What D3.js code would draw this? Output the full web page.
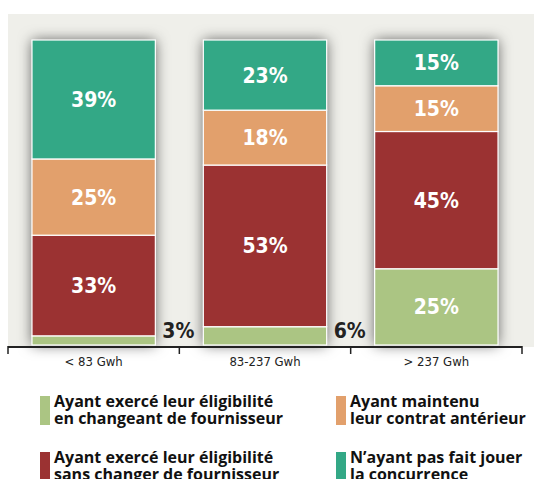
<!DOCTYPE html>
<meta charset="utf-8">
<style>
body { margin: 0; background: #fff; }
text { font-family: "Liberation Sans Narrow", "DejaVu Sans Condensed", sans-serif; }
.val { font-weight: bold; font-size: 21px; }
.cat { font-size: 13px; fill: #222; }
.leg { font-family: "Open Sans", Lato, sans-serif; font-weight: bold; font-size: 16px; fill: #111; }
</style>
<body>
<div id="chart"></div>
<script src="https://cdn.jsdelivr.net/npm/d3@7"></script>
<script>
// categories and series (percent)
var categories = ["< 83 Gwh", "83-237 Gwh", "> 237 Gwh"];
var changed    = [3, 6, 25];   // exercé, en changeant
var stayed     = [33, 53, 45]; // exercé, sans changer
var kept       = [25, 18, 15]; // maintenu contrat
var noCompet   = [39, 23, 15]; // pas fait jouer la concurrence
var seriesKeys = ["changed", "stayed", "kept", "noCompet"];
var seriesColors = ["#abc583", "#9b3232", "#e2a06c", "#33a886"];
var legendLines = [
  ["Ayant exercé leur éligibilité", "en changeant de fournisseur"],
  ["Ayant exercé leur éligibilité", "sans changer de fournisseur"],
  ["Ayant maintenu", "leur contrat antérieur"],
  ["N’ayant pas fait jouer", "la concurrence"]
];

var width = 534, height = 479;
var svg = d3.select("#chart").append("svg")
    .attr("width", width)
    .attr("height", height);

var defs = svg.append("defs");
var f = defs.append("filter").attr("id", "shadow")
    .attr("x", "-30%").attr("y", "-30%").attr("width", "160%").attr("height", "160%");
f.append("feDropShadow")
    .attr("dx", 0).attr("dy", 0)
    .attr("stdDeviation", 7)
    .attr("flood-color", "#000").attr("flood-opacity", 0.6);

var rows = categories.map(function(c, i) {
  return {cat: c, changed: changed[i], stayed: stayed[i], kept: kept[i], noCompet: noCompet[i]};
});
var stack = d3.stack().keys(seriesKeys)(rows);

var x = d3.scaleBand().domain(categories).range([8, 522])
    .paddingInner(0.28).paddingOuter(0.14);
var y = d3.scaleLinear().domain([0, 100]).range([345, 40]);

// panel
svg.append("rect")
    .attr("x", 8).attr("y", 14)
    .attr("width", width - 8).attr("height", y(0) + 2 - 14)
    .attr("fill", "#efefea");

// bar shadows
svg.append("g").selectAll("rect")
  .data(categories).join("rect")
    .attr("x", function(d) { return x(d); })
    .attr("y", y(100))
    .attr("width", x.bandwidth())
    .attr("height", y(0) - y(100))
    .attr("fill", "#ccc")
    .attr("filter", "url(#shadow)");

// stacked segments
var layer = svg.append("g").selectAll("g")
  .data(stack).join("g")
    .attr("fill", function(d, i) { return seriesColors[i]; });

layer.selectAll("rect")
  .data(function(d) { return d; }).join("rect")
    .attr("x", function(d) { return x(d.data.cat); })
    .attr("y", function(d) { return y(d[1]); })
    .attr("width", x.bandwidth())
    .attr("height", function(d) { return y(d[0]) - y(d[1]); })
    .attr("stroke", "#fff")
    .attr("stroke-width", 1.2);

// value labels (small ones go outside, to the right of the bar)
function small(d) { return (d[1] - d[0]) < 10; }
layer.selectAll("text")
  .data(function(d) { return d; }).join("text")
    .attr("class", "val")
    .attr("x", function(d) {
      return small(d) ? x(d.data.cat) + x.bandwidth() + 7 : x(d.data.cat) + x.bandwidth() / 2;
    })
    .attr("y", function(d) {
      return small(d) ? y(0) - 7 : (y(d[0]) + y(d[1])) / 2;
    })
    .attr("dy", function(d) { return small(d) ? 0 : "0.36em"; })
    .attr("text-anchor", function(d) { return small(d) ? "start" : "middle"; })
    .attr("fill", function(d) { return small(d) ? "#222" : "#fff"; })
    .text(function(d) { return (d[1] - d[0]) + "%"; });

// axis
var axisY = y(0) + 2;
var axis = svg.append("g").attr("transform", "translate(0," + axisY + ")");
axis.append("line")
    .attr("x1", 8).attr("x2", 522)
    .attr("stroke", "#222").attr("stroke-width", 2);
var bounds = categories.map(function(c) { return x(c) - x.step() * x.paddingInner() / 2; });
bounds[0] = 8;
bounds.push(522);
axis.selectAll(".tk").data(bounds).join("line")
    .attr("class", "tk")
    .attr("x1", function(d) { return d; }).attr("x2", function(d) { return d; })
    .attr("y1", -1).attr("y2", 7)
    .attr("stroke", "#222").attr("stroke-width", 1.5);
axis.selectAll(".cat").data(categories).join("text")
    .attr("class", "cat")
    .attr("x", function(d) { return x(d) + x.bandwidth() / 2; })
    .attr("y", 19)
    .attr("text-anchor", "middle")
    .text(function(d) { return d; });

// legend
var legPos = [[40, 396], [40, 452], [336, 396], [336, 452]];
var leg = svg.append("g").selectAll("g")
  .data(legendLines).join("g")
    .attr("transform", function(d, i) { return "translate(" + legPos[i][0] + "," + legPos[i][1] + ")"; });
leg.append("rect")
    .attr("width", 10).attr("height", 29)
    .attr("fill", function(d, i) { return seriesColors[i]; });
leg.append("text")
    .attr("class", "leg")
    .selectAll("tspan").data(function(d) { return d; }).join("tspan")
    .attr("x", 14)
    .attr("y", function(d, i) { return 11 + i * 17; })
    .text(function(d) { return d; });
</script>
</body>
